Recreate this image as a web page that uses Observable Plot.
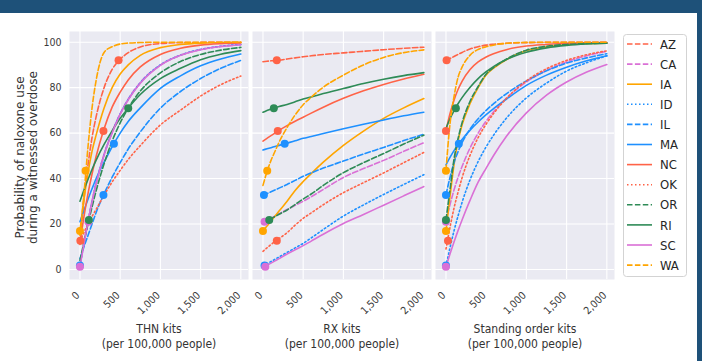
<!DOCTYPE html>
<html><head><meta charset="utf-8">
<script src="https://cdn.jsdelivr.net/npm/d3@7"></script>
<script src="https://cdn.jsdelivr.net/npm/@observablehq/plot@0.6"></script>
<style>
body{margin:0;background:#fff;width:702px;height:361px;overflow:hidden;position:relative;font-family:"DejaVu Sans",sans-serif}
#topbar{position:absolute;left:0;top:0;width:702px;height:13px;background:#1e5179}
#rightbar{position:absolute;left:697px;top:0;width:5px;height:361px;background:#1e5179}
#chart{position:absolute;left:0;top:0}
</style></head><body>
<div id="topbar"></div><div id="rightbar"></div>
<div id="chart"></div>
<script>
const states = ["AZ","CA","IA","ID","IL","MA","NC","OK","OR","RI","SC","WA"];
const colors = ["#ff6347","#da70d6","#ffa500","#1e90ff","#1e90ff","#1e90ff","#ff6347","#ff6347","#2e8b57","#2e8b57","#da70d6","#ffa500"];
const styles = ["dashed","dashed","solid","dotted","dashed","solid","solid","dotted","dashed","solid","solid","dashed"];
const panels = ["THN kits", "RX kits", "Standing order kits"];
const panelSub = "(per 100,000 people)";
const yLabel = "Probability of naloxone use\nduring a witnessed overdose";
const xTicks = [0, 500, 1000, 1500, 2000];
const yTicks = [0, 20, 40, 60, 80, 100];
const xGrid = [0, 50, 100, 150, 200, 300, 400, 500, 600, 750, 1000, 1250, 1500, 1750, 2000];

// Panel 1: THN kits
const thnCurves = {
  AZ: [11, 31, 46, 58, 67, 80, 88, 92.5, 95.4, 97.9, 99.4, 99.8, 99.9, 100, 100],
  CA: [1.5, 11.8, 21.5, 30.2, 38, 50.8, 60.5, 68.6, 75, 82.3, 90, 94.3, 96.8, 98.1, 98.9],
  IA: [17, 31, 42.5, 52, 59, 71, 80, 86, 90, 94.2, 97.6, 99, 99.6, 99.8, 99.9],
  ID: [1.8, 11.5, 21, 29.8, 37.7, 50.5, 60.3, 68.4, 74.8, 82.1, 90, 94.3, 96.8, 98.2, 99],
  IL: [4.7, 10, 15, 20, 25, 33.3, 40.6, 47, 53, 60.5, 71, 78.3, 84, 88.5, 92],
  MA: [21, 26, 30.9, 35.5, 39.9, 47.2, 54, 60, 65.1, 71.1, 79.7, 85.2, 89.6, 92.6, 94.8],
  NC: [12, 23.4, 33.4, 42, 49.6, 61.9, 71.4, 78, 83.4, 89.1, 94.6, 97.3, 98.7, 99.35, 99.67],
  OK: [12.5, 16.3, 20, 23.3, 26.4, 32.7, 38.5, 43.6, 48.4, 54.5, 63.6, 70.1, 76.3, 81.3, 85.1],
  OR: [4, 12, 20, 27.5, 34.5, 46.5, 56.5, 64.5, 71, 78.5, 86.5, 91.5, 94.6, 96.5, 97.7],
  RI: [30, 35, 39.6, 44, 48, 55, 61, 66.5, 71, 77, 84, 88.5, 92.3, 94.7, 96.3],
  SC: [1.2, 11.3, 21, 29.6, 37.5, 50.3, 60, 68.2, 74.6, 81.9, 89.8, 94.2, 96.7, 98.1, 98.9],
  WA: [15, 33, 54, 71, 83, 95.5, 98, 99.2, 99.6, 99.85, 100, 100, 100, 100, 100]
};
// Panel 2: RX kits
const rxCurves = {
  AZ: [91.4, 91.6, 91.8, 91.95, 92.1, 92.6, 93.1, 93.6, 94, 94.6, 95.3, 96, 96.7, 97.3, 97.8],
  CA: [20.5, 21.5, 22.5, 23.5, 24.5, 26.4, 28.2, 30, 32, 35.2, 40.5, 44.4, 48, 52, 55.8],
  IA: [17, 19.1, 21.3, 23.5, 25.7, 30, 34.8, 38.7, 42.2, 47.2, 54.6, 60.9, 66.5, 71.1, 75.2],
  ID: [1.5, 2.5, 3.5, 4.5, 5.5, 7.5, 9.5, 11.5, 13.9, 17.6, 23.5, 28.4, 33, 37.4, 41.7],
  IL: [32.5, 33.4, 34.2, 35, 35.8, 37.4, 39.2, 41, 42.5, 44.6, 47.7, 50.8, 53.7, 56.7, 59.5],
  MA: [52.6, 53.1, 53.6, 54.1, 54.6, 55.6, 56.6, 57.7, 58.5, 59.8, 61.9, 63.9, 65.8, 67.6, 69.2],
  NC: [56.5, 57.7, 58.9, 60, 61.2, 63.3, 65.2, 67, 68.8, 71.4, 75.3, 78.6, 81.4, 83.8, 85.9],
  OK: [8, 9.5, 11, 12.3, 13.6, 16.2, 19.5, 22.5, 24.9, 28.5, 33.8, 38.2, 42.5, 47, 51.5],
  OR: [20.3, 21.3, 22.3, 23.3, 24.3, 26.2, 28.6, 31, 33.2, 37, 42.6, 47, 51, 55.2, 59.1],
  RI: [69.2, 69.9, 70.6, 71.2, 71.7, 72.6, 73.8, 75, 75.9, 77.4, 79.6, 81.8, 83.7, 85.3, 86.6],
  SC: [0.8, 1.8, 2.8, 3.8, 4.8, 6.8, 8.7, 10.5, 12.5, 15.5, 20.2, 24.2, 28.3, 32.4, 36.5],
  WA: [37, 43, 48, 52, 56, 62.5, 68, 72.5, 75.8, 80.2, 85.5, 90, 93.3, 95.4, 96.6]
};
// Panel 3: Standing order kits
const soCurves = {
  AZ: [91.7, 92.8, 93.7, 94.6, 95.5, 97, 98, 98.7, 99.1, 99.5, 99.8, 99.9, 100, 100, 100],
  CA: [21, 28.5, 35, 40.5, 45.3, 53.5, 60, 65.3, 69.7, 75.3, 82.5, 87.6, 91.3, 94, 96],
  IA: [17, 32, 46, 56.5, 63.5, 73, 80, 85.6, 88.8, 92.3, 96.3, 98, 98.9, 99.4, 99.6],
  ID: [1.5, 9.5, 17, 23.5, 29.5, 39.5, 47.5, 54, 59.5, 66.5, 75.5, 82, 87.3, 91, 94],
  IL: [32.8, 40.5, 47, 51.8, 55.8, 61.8, 66.3, 70, 73.2, 77.3, 83, 87.4, 90.8, 93.1, 94.9],
  MA: [46, 49.3, 52.3, 54.9, 57.2, 61.3, 64.9, 68.1, 71, 74.9, 81, 85.5, 89, 91.8, 94],
  NC: [61, 68.5, 74.5, 79.2, 82.8, 88, 91.3, 93.5, 95, 96.7, 98.3, 99, 99.5, 99.7, 99.8],
  OK: [9, 18.5, 27, 34, 40.3, 50.3, 58, 64, 69, 75.2, 83, 88.3, 92, 94.5, 96.2],
  OR: [21.8, 35, 48.5, 57.5, 64.5, 74, 80.5, 86, 89, 92.5, 96.5, 98.2, 99, 99.4, 99.6],
  RI: [62, 66.3, 69.8, 72.9, 75.6, 80.2, 84, 87, 89.5, 92.4, 95.6, 97.5, 98.6, 99.2, 99.5],
  SC: [1.2, 6.8, 12.1, 17.1, 21.8, 30.5, 38.4, 44.6, 50.6, 58.5, 68.9, 76.7, 82.5, 86.9, 90.2],
  WA: [43.5, 64, 76, 84.5, 89, 94.3, 96.8, 98, 98.8, 99.5, 99.9, 100, 100, 100, 100]
};
// Observed points: y per state, x per panel
const dotY  = [92, 21, 16.9, 1.8, 32.8, 55.3, 60.9, 12.7, 21.8, 70.9, 1.2, 43.4];
const thnDotX = [480, 105, 0, 0, 292, 422, 292, 5, 111, 600, 0, 70];
const rxDotX  = [172, 20, 0, 20, 12, 270, 184, 172, 78, 135, 29, 53];
const soDotX  = [8, 0, 0, 0, 0, 160, 0, 25, 0, 123, 0, 0];

const dashOf = {solid: null, dashed: "5.5,2.4", dotted: "1.5,2.5"};
const curveSets = [thnCurves, rxCurves, soCurves];
const dotXs = [thnDotX, rxDotX, soDotX];

const rows = [];
panels.forEach((p, pi) => states.forEach(s => curveSets[pi][s].forEach((v, i) => rows.push({panel: p, state: s, x: xGrid[i], y: v}))));
const dots = [];
panels.forEach((p, pi) => states.forEach((s, si) => dots.push({panel: p, state: s, x: dotXs[pi][si], y: dotY[si], color: colors[si]})));
const labels = panels.map(p => ({panel: p, text: p + "\n" + panelSub}));

const chart = Plot.plot({
  width: 702, height: 361,
  marginLeft: 68, marginRight: 88, marginTop: 31, marginBottom: 82,
  style: {fontFamily: "'DejaVu Sans Condensed', 'DejaVu Sans', sans-serif", fontSize: "10.5px", color: "#3a3a3a", background: "transparent", overflow: "visible"},
  fx: {domain: panels, paddingInner: 0.022, paddingOuter: 0, axis: null, label: null},
  x: {domain: [-130, 2095], label: null},
  y: {domain: [-4.4, 104.7], ticks: yTicks, tickSize: 0, tickPadding: 8, label: null},
  marks: [
    Plot.frame({fill: "#eaeaf2", stroke: null}),
    Plot.gridX(xTicks, {stroke: "#ffffff", strokeOpacity: 1, strokeWidth: 1.1}),
    Plot.gridY(yTicks, {stroke: "#ffffff", strokeOpacity: 1, strokeWidth: 1.1}),
    Plot.axisX(xTicks, {tickFormat: d3.format(","), tickRotate: -45, tickSize: 0, tickPadding: 14, dx: -2, label: null}),
    ...states.map((s, i) => Plot.line(rows.filter(d => d.state === s), {
      x: "x", y: "y", fx: "panel", stroke: colors[i], strokeWidth: 1.6,
      strokeDasharray: dashOf[styles[i]], curve: "monotone-x"
    })),
    Plot.dot(dots, {x: "x", y: "y", fx: "panel", fill: "color", r: 4, stroke: null}),
    Plot.text(labels, {fx: "panel", text: "text", frameAnchor: "bottom", lineAnchor: "top", dy: 43, fontSize: 12, lineHeight: 1.25, fill: "#333"}),
    Plot.text([{panel: panels[0]}], {fx: "panel", text: () => yLabel, frameAnchor: "left", textAnchor: "middle", lineAnchor: "middle", rotate: -90, dx: -43, dy: 2, fontSize: 12, lineHeight: 1.1, fill: "#333", fontFamily: "DejaVu Sans"})
  ]
});
document.getElementById("chart").appendChild(chart);

// Legend
const leg = d3.select("body").append("svg")
  .attr("width", 702).attr("height", 361)
  .style("position", "absolute").style("left", "0px").style("top", "0px");
leg.append("rect").attr("x", 623.5).attr("y", 34.5).attr("width", 63).attr("height", 242)
  .attr("rx", 3).attr("fill", "#ffffff").attr("stroke", "#d3d3d3");
states.forEach((s, i) => {
  const y = 44 + i * 20.1;
  leg.append("line").attr("x1", 627).attr("x2", 652).attr("y1", y).attr("y2", y)
    .attr("stroke", colors[i]).attr("stroke-width", 1.6)
    .attr("stroke-dasharray", dashOf[styles[i]]);
  leg.append("text").attr("x", 660).attr("y", y).attr("dy", "0.36em")
    .attr("font-family", "'DejaVu Sans Condensed', 'DejaVu Sans', sans-serif")
    .attr("font-size", 13).attr("fill", "#262626").text(s);
});
</script>
</body></html>
